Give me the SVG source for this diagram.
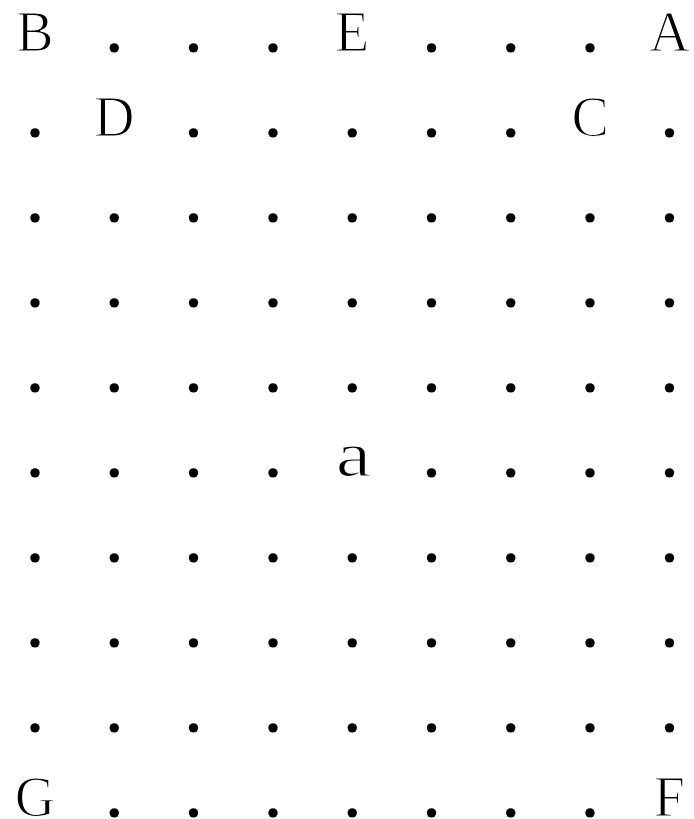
<svg xmlns="http://www.w3.org/2000/svg" width="694" height="819" viewBox="0 0 694 819">
<style>
text{fill:#000;text-anchor:middle}
.d{font-family:"Liberation Serif","Times New Roman",serif;font-size:58px;font-weight:bold}
.l{font-family:"Liberation Serif","Times New Roman",serif;font-size:56px;stroke:#fff;stroke-width:1.2px}
.s{font-size:64px}
</style>
<rect width="694" height="819" fill="#fff"/>
<g id="dots">
<text class="d" x="114.3" y="52">.</text><text class="d" x="193.6" y="52">.</text><text class="d" x="272.9" y="52">.</text><text class="d" x="431.5" y="52">.</text><text class="d" x="510.8" y="52">.</text><text class="d" x="590.1" y="52">.</text>
<text class="d" x="35" y="137">.</text><text class="d" x="193.6" y="137">.</text><text class="d" x="272.9" y="137">.</text><text class="d" x="352.2" y="137">.</text><text class="d" x="431.5" y="137">.</text><text class="d" x="510.8" y="137">.</text><text class="d" x="669.4" y="137">.</text>
<g id="row2"><text class="d" x="35" y="222">.</text><text class="d" x="114.3" y="222">.</text><text class="d" x="193.6" y="222">.</text><text class="d" x="272.9" y="222">.</text><text class="d" x="352.2" y="222">.</text><text class="d" x="431.5" y="222">.</text><text class="d" x="510.8" y="222">.</text><text class="d" x="590.1" y="222">.</text><text class="d" x="669.4" y="222">.</text></g>
<g id="row3"><text class="d" x="35" y="307">.</text><text class="d" x="114.3" y="307">.</text><text class="d" x="193.6" y="307">.</text><text class="d" x="272.9" y="307">.</text><text class="d" x="352.2" y="307">.</text><text class="d" x="431.5" y="307">.</text><text class="d" x="510.8" y="307">.</text><text class="d" x="590.1" y="307">.</text><text class="d" x="669.4" y="307">.</text></g>
<g id="row4"><text class="d" x="35" y="392">.</text><text class="d" x="114.3" y="392">.</text><text class="d" x="193.6" y="392">.</text><text class="d" x="272.9" y="392">.</text><text class="d" x="352.2" y="392">.</text><text class="d" x="431.5" y="392">.</text><text class="d" x="510.8" y="392">.</text><text class="d" x="590.1" y="392">.</text><text class="d" x="669.4" y="392">.</text></g>
<g id="row5"><text class="d" x="35" y="477">.</text><text class="d" x="114.3" y="477">.</text><text class="d" x="193.6" y="477">.</text><text class="d" x="272.9" y="477">.</text><text class="d" x="431.5" y="477">.</text><text class="d" x="510.8" y="477">.</text><text class="d" x="590.1" y="477">.</text><text class="d" x="669.4" y="477">.</text></g>
<g id="row6"><text class="d" x="35" y="562">.</text><text class="d" x="114.3" y="562">.</text><text class="d" x="193.6" y="562">.</text><text class="d" x="272.9" y="562">.</text><text class="d" x="352.2" y="562">.</text><text class="d" x="431.5" y="562">.</text><text class="d" x="510.8" y="562">.</text><text class="d" x="590.1" y="562">.</text><text class="d" x="669.4" y="562">.</text></g>
<g id="row7"><text class="d" x="35" y="647">.</text><text class="d" x="114.3" y="647">.</text><text class="d" x="193.6" y="647">.</text><text class="d" x="272.9" y="647">.</text><text class="d" x="352.2" y="647">.</text><text class="d" x="431.5" y="647">.</text><text class="d" x="510.8" y="647">.</text><text class="d" x="590.1" y="647">.</text><text class="d" x="669.4" y="647">.</text></g>
<g id="row8"><text class="d" x="35" y="732">.</text><text class="d" x="114.3" y="732">.</text><text class="d" x="193.6" y="732">.</text><text class="d" x="272.9" y="732">.</text><text class="d" x="352.2" y="732">.</text><text class="d" x="431.5" y="732">.</text><text class="d" x="510.8" y="732">.</text><text class="d" x="590.1" y="732">.</text><text class="d" x="669.4" y="732">.</text></g>
<text class="d" x="114.3" y="817">.</text><text class="d" x="193.6" y="817">.</text><text class="d" x="272.9" y="817">.</text><text class="d" x="352.2" y="817">.</text><text class="d" x="431.5" y="817">.</text><text class="d" x="510.8" y="817">.</text><text class="d" x="590.1" y="817">.</text>
</g>
<g id="connectors"></g>
<g id="node-B"><text class="l" x="35" y="51">B</text></g>
<g id="node-E"><text class="l" x="352.2" y="51">E</text></g>
<g id="node-A"><text class="l" x="669.4" y="51">A</text></g>
<g id="node-D"><text class="l" x="114.3" y="136">D</text></g>
<g id="node-C"><text class="l" x="590.1" y="136">C</text></g>
<g id="node-a"><text class="l s" x="0" y="0" transform="translate(353.5 476) scale(1.25 1)">a</text></g>
<g id="node-G"><text class="l" x="35" y="816">G</text></g>
<g id="node-F"><text class="l" x="669.4" y="816">F</text></g>
</svg>
